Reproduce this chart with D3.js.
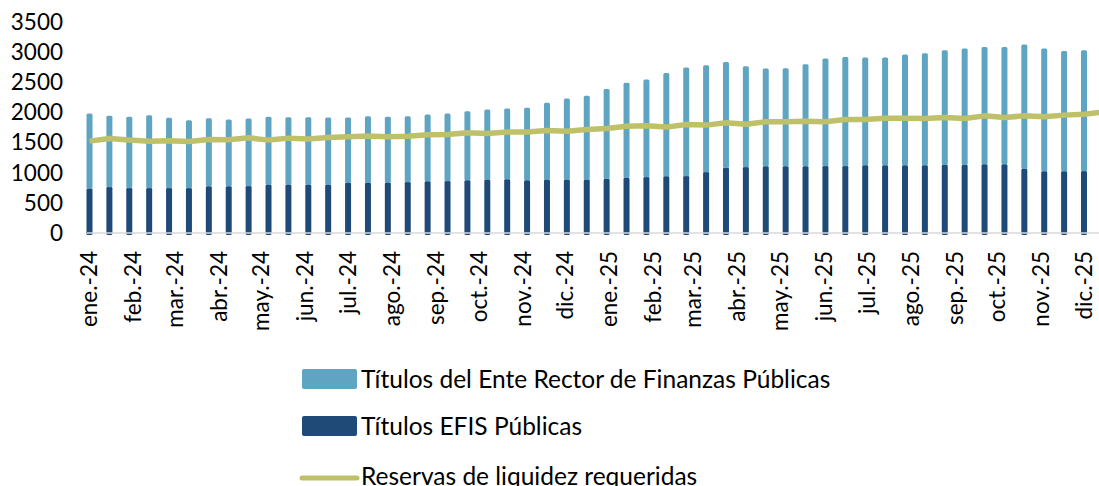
<!DOCTYPE html>
<html>
<head>
<meta charset="utf-8">
<script src="https://cdn.jsdelivr.net/npm/d3@7"></script>
<style>
  body { margin: 0; background: #fff; }
  svg { display: block; font-family: Lato, "Noto Sans", sans-serif; }
</style>
</head>
<body>
<div id="chart"></div>
<script>
let width = 1099;
let height = 486;

// biweekly observation dates
let dates = [
  "2024-01-01", "2024-01-15", "2024-01-29", "2024-02-12", "2024-02-26", "2024-03-11", "2024-03-25",
  "2024-04-08", "2024-04-22", "2024-05-06", "2024-05-20", "2024-06-03", "2024-06-17", "2024-07-01",
  "2024-07-15", "2024-07-29", "2024-08-12", "2024-08-26", "2024-09-09", "2024-09-23", "2024-10-07",
  "2024-10-21", "2024-11-04", "2024-11-18", "2024-12-02", "2024-12-16", "2024-12-30", "2025-01-13",
  "2025-01-27", "2025-02-10", "2025-02-24", "2025-03-10", "2025-03-24", "2025-04-07", "2025-04-21",
  "2025-05-05", "2025-05-19", "2025-06-02", "2025-06-16", "2025-06-30", "2025-07-14", "2025-07-28",
  "2025-08-11", "2025-08-25", "2025-09-08", "2025-09-22", "2025-10-06", "2025-10-20", "2025-11-03",
  "2025-11-17", "2025-12-01"
];

let efis = [
  742, 768, 752, 752, 752, 752, 780, 780, 785, 808, 808, 808, 808, 841, 841, 841, 851,
  863, 868, 879, 891, 896, 879, 891, 891, 891, 907, 924, 934, 946, 951, 1017, 1090, 1100,
  1112, 1112, 1112, 1117, 1117, 1128, 1128, 1128, 1128, 1139, 1139, 1145, 1145, 1073, 1029,
  1029, 1034
];

let enteRector = [
  1244, 1178, 1177, 1206, 1161, 1123, 1128, 1106, 1118, 1121, 1116, 1116, 1111, 1078, 1100,
  1088, 1090, 1106, 1118, 1145, 1161, 1173, 1200, 1271, 1344, 1387, 1487, 1570, 1616, 1713,
  1798, 1770, 1752, 1671, 1620, 1625, 1692, 1781, 1808, 1787, 1787, 1837, 1858, 1897, 1925,
  1946, 1946, 2057, 2035, 1995, 2002
];

// reserve line has one more point past the last bar
let reservaDates = dates.concat(["2025-12-15"]);
let reservas = [
  1526, 1571, 1543, 1526, 1532, 1521, 1554, 1549, 1582, 1543, 1576, 1560, 1587, 1598, 1610,
  1598, 1609, 1631, 1637, 1664, 1654, 1676, 1676, 1703, 1692, 1720, 1737, 1775, 1781, 1759,
  1803, 1792, 1830, 1808, 1847, 1847, 1858, 1847, 1886, 1886, 1908, 1908, 1902, 1919, 1902,
  1946, 1919, 1946, 1930, 1958, 1974, 2010
];

let yTicks = [0, 500, 1000, 1500, 2000, 2500, 3000, 3500];
let monthNames = ["ene.", "feb.", "mar.", "abr.", "may.", "jun.", "jul.", "ago.", "sep.", "oct.", "nov.", "dic."];

let seriesNames = {
  ente: "Títulos del Ente Rector de Finanzas Públicas",
  efis: "Títulos EFIS Públicas",
  reservas: "Reservas de liquidez requeridas"
};

let colors = { ente: "#5fa5c2", efis: "#1f4a78", reservas: "#bec169", axis: "#d9d9d9" };

let parse = d3.timeParse("%Y-%m-%d");

let data = dates.map((d, i) => ({
  date: parse(d),
  efis: efis[i],
  ente: enteRector[i]
}));

let lineData = reservaDates.map((d, i) => ({ date: parse(d), value: reservas[i] }));

let svg = d3.select("#chart")
  .append("svg")
  .attr("width", width)
  .attr("height", height);

let x = d3.scaleTime()
  .domain([parse("2024-01-01"), parse("2025-12-01")])
  .range([89.5, 1084]);

let y = d3.scaleLinear()
  .domain([0, 3500])
  .range([233, 22.3]);

let barWidth = 6;

// y axis labels only
svg.append("g")
  .attr("transform", "translate(63,0)")
  .call(d3.axisLeft(y).tickValues(yTicks).tickFormat(d3.format("d")).tickSize(0).tickPadding(0))
  .call(g => g.select(".domain").remove())
  .selectAll("text")
  .attr("fill", "#000")
  .style("font-family", "Lato, 'Noto Sans', sans-serif")
  .style("font-size", "22.5px");

// stacked bars
let stack = d3.stack().keys(["efis", "ente"])(data);

svg.append("g")
  .selectAll("g")
  .data(stack)
  .enter()
  .append("g")
  .attr("fill", s => colors[s.key])
  .selectAll("rect")
  .data(s => s)
  .enter()
  .append("rect")
  .attr("x", d => x(d.data.date) - barWidth / 2)
  .attr("y", d => y(d[1]))
  .attr("width", barWidth)
  .attr("height", d => y(d[0]) - y(d[1]) + (d[0] === 0 ? 2 : 0.5))
  .attr("rx", 1.5);

// x axis line
svg.append("line")
  .attr("x1", 87)
  .attr("x2", width)
  .attr("y1", y(0))
  .attr("y2", y(0))
  .attr("stroke", colors.axis)
  .attr("stroke-width", 1.5);

// month labels
let months = d3.timeMonth.range(parse("2024-01-01"), parse("2025-12-02"));
svg.append("g")
  .selectAll("text")
  .data(months)
  .enter()
  .append("text")
  .attr("transform", d => `translate(${x(d)},251) rotate(-90)`)
  .attr("dy", "0.35em")
  .attr("text-anchor", "end")
  .style("font-size", "22.5px")
  .text(d => monthNames[d.getMonth()] + "-" + d3.timeFormat("%y")(d));

// reserve line
svg.append("path")
  .datum(lineData)
  .attr("fill", "none")
  .attr("stroke", colors.reservas)
  .attr("stroke-width", 5.5)
  .attr("stroke-linejoin", "round")
  .attr("d", d3.line().x(d => x(d.date)).y(d => y(d.value)));

// legend
let legendItems = [
  { key: "ente", y: 379, type: "rect" },
  { key: "efis", y: 426, type: "rect" },
  { key: "reservas", y: 476, type: "line" }
];

let legend = svg.append("g");

legendItems.forEach(item => {
  if (item.type === "rect") {
    legend.append("rect")
      .attr("x", 302)
      .attr("y", item.y - 10)
      .attr("width", 55)
      .attr("height", 20)
      .attr("rx", 2)
      .attr("fill", colors[item.key]);
  } else {
    legend.append("line")
      .attr("x1", 302)
      .attr("x2", 357)
      .attr("y1", item.y + 2)
      .attr("y2", item.y + 2)
      .attr("stroke", colors[item.key])
      .attr("stroke-width", 5)
      .attr("stroke-linecap", "round");
  }
  legend.append("text")
    .attr("x", 361)
    .attr("y", item.y)
    .attr("dy", "0.35em")
    .style("font-size", "24.5px")
    .text(seriesNames[item.key]);
});
</script>
</body>
</html>
